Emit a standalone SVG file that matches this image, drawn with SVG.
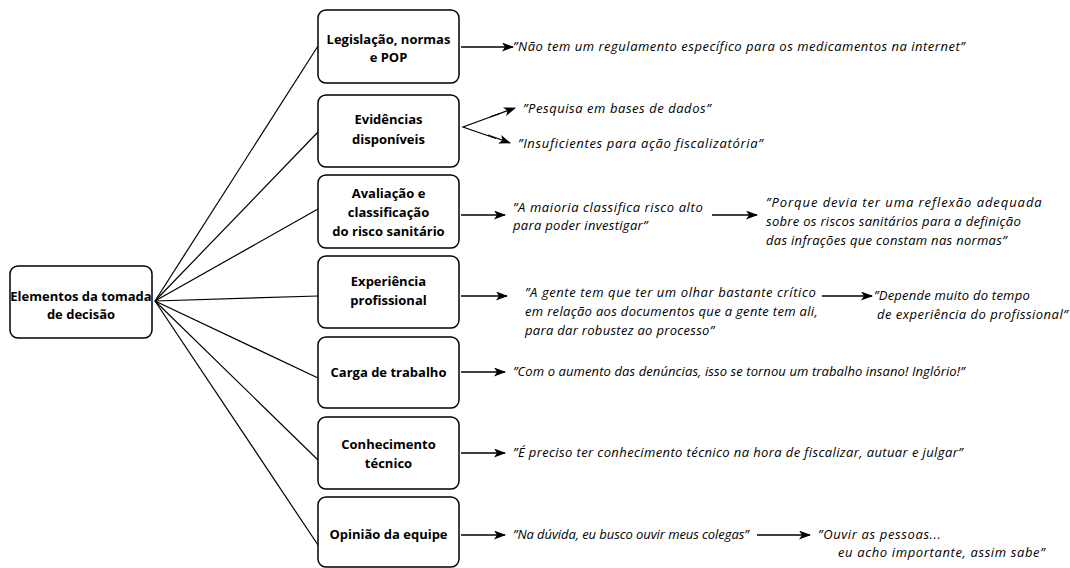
<svg xmlns="http://www.w3.org/2000/svg" width="1070" height="568" viewBox="0 0 1070 568">
<defs>
<marker id="ah" markerWidth="12" markerHeight="10" refX="11" refY="4.5" orient="auto" markerUnits="userSpaceOnUse">
<path d="M0,0 L12,4.5 L0,9 L3,4.5 z" fill="#000"/>
</marker>
<style>
.box{fill:#fff;stroke:#000;stroke-width:1.5}
.lbl{font-family:"Open Sans","Noto Sans",sans-serif;font-weight:bold;font-size:13px;text-anchor:middle;fill:#000}
.q{font-family:"Open Sans","Noto Sans",sans-serif;font-style:italic;font-size:13px;letter-spacing:0.3px;fill:#000}
.ln{stroke:#000;stroke-width:1.2;fill:none}
.ar{stroke:#000;stroke-width:1.3;fill:none;marker-end:url(#ah)}
</style>
</defs>
<rect width="1070" height="568" fill="#fff"/>
<g id="connectors">
<line class="ln" x1="155" y1="301" x2="318" y2="46"/>
<line class="ln" x1="155" y1="301" x2="318" y2="132"/>
<line class="ln" x1="155" y1="301" x2="318" y2="209"/>
<line class="ln" x1="155" y1="301" x2="318" y2="296"/>
<line class="ln" x1="155" y1="301" x2="318" y2="378"/>
<line class="ln" x1="155" y1="301" x2="318" y2="460"/>
<line class="ln" x1="155" y1="301" x2="318" y2="545"/>
<line class="ar" x1="461" y1="47" x2="513" y2="47"/>
<polyline class="ln" points="500,113.5 463,127 496,138.5"/>
<line class="ar" x1="490" y1="117" x2="515" y2="108"/>
<line class="ar" x1="488" y1="135" x2="510" y2="143"/>
<line class="ar" x1="461" y1="215" x2="505" y2="215"/>
<line class="ar" x1="712" y1="215" x2="757" y2="215"/>
<line class="ar" x1="461" y1="296" x2="507" y2="296"/>
<line class="ar" x1="822" y1="296" x2="872" y2="296"/>
<line class="ar" x1="461" y1="372" x2="505" y2="372"/>
<line class="ar" x1="461" y1="453" x2="505" y2="453"/>
<line class="ar" x1="461" y1="535" x2="505" y2="535"/>
<line class="ar" x1="757" y1="535" x2="810" y2="535"/>
</g>
<g id="root">
<rect class="box" x="10" y="266" width="142" height="72" rx="8"/>
<text class="lbl" x="81" y="301">Elementos da tomada</text>
<text class="lbl" x="81" y="319">de decisão</text>
</g>
<g id="n1">
<rect class="box" x="318" y="10" width="141" height="73" rx="8"/>
<text class="lbl" x="388.5" y="44">Legislação, normas</text>
<text class="lbl" x="388.5" y="62">e POP</text>
</g>
<g id="n2">
<rect class="box" x="318" y="95" width="141" height="72" rx="8"/>
<text class="lbl" x="388.5" y="124">Evidências</text>
<text class="lbl" x="388.5" y="144">disponíveis</text>
</g>
<g id="n3">
<rect class="box" x="318" y="175" width="141" height="73" rx="8"/>
<text class="lbl" x="388.5" y="198">Avaliação e</text>
<text class="lbl" x="388.5" y="217">classificação</text>
<text class="lbl" x="388.5" y="236">do risco sanitário</text>
</g>
<g id="n4">
<rect class="box" x="318" y="256" width="141" height="72" rx="8"/>
<text class="lbl" x="388.5" y="286">Experiência</text>
<text class="lbl" x="388.5" y="305">profissional</text>
</g>
<g id="n5">
<rect class="box" x="318" y="337" width="141" height="71" rx="8"/>
<text class="lbl" x="388.5" y="377">Carga de trabalho</text>
</g>
<g id="n6">
<rect class="box" x="318" y="417" width="141" height="72" rx="8"/>
<text class="lbl" x="388.5" y="449">Conhecimento</text>
<text class="lbl" x="388.5" y="468">técnico</text>
</g>
<g id="n7">
<rect class="box" x="318" y="497" width="141" height="70" rx="8"/>
<text class="lbl" x="388.5" y="539">Opinião da equipe</text>
</g>
<g id="quotes">
<text class="q" x="513" y="51" textLength="452" lengthAdjust="spacing">”Não tem um regulamento específico para os medicamentos na internet”</text>
<text class="q" x="523" y="113" textLength="188" lengthAdjust="spacing">”Pesquisa em bases de dados”</text>
<text class="q" x="518" y="148" textLength="245" lengthAdjust="spacing">”Insuficientes para ação fiscalizatória”</text>
<text class="q" x="513" y="212" textLength="190" lengthAdjust="spacing">”A maioria classifica risco alto</text>
<text class="q" x="513" y="230">para poder investigar”</text>
<text class="q" x="766" y="207" textLength="276" lengthAdjust="spacing">”Porque devia ter uma reflexão adequada</text>
<text class="q" x="766" y="226">sobre os riscos sanitários para a definição</text>
<text class="q" x="766" y="245">das infrações que constam nas normas”</text>
<text class="q" x="525" y="297" textLength="291" lengthAdjust="spacing">”A gente tem que ter um olhar bastante crítico</text>
<text class="q" x="525" y="316" textLength="293" lengthAdjust="spacing">em relação aos documentos que a gente tem ali,</text>
<text class="q" x="525" y="335">para dar robustez ao processo”</text>
<text class="q" x="874" y="300" textLength="156" lengthAdjust="spacing">”Depende muito do tempo</text>
<text class="q" x="877" y="319" textLength="191" lengthAdjust="spacing">de experiência do profissional”</text>
<text class="q" x="513" y="376" textLength="452" lengthAdjust="spacing">”Com o aumento das denúncias, isso se tornou um trabalho insano! Inglório!”</text>
<text class="q" x="513" y="457" textLength="450" lengthAdjust="spacing">”É preciso ter conhecimento técnico na hora de fiscalizar, autuar e julgar”</text>
<text class="q" x="513" y="539" textLength="236" lengthAdjust="spacing">”Na dúvida, eu busco ouvir meus colegas”</text>
<text class="q" x="818" y="539" textLength="123" lengthAdjust="spacing">”Ouvir as pessoas...</text>
<text class="q" x="838" y="557" textLength="207" lengthAdjust="spacing">eu acho importante, assim sabe”</text>
</g>
</svg>
